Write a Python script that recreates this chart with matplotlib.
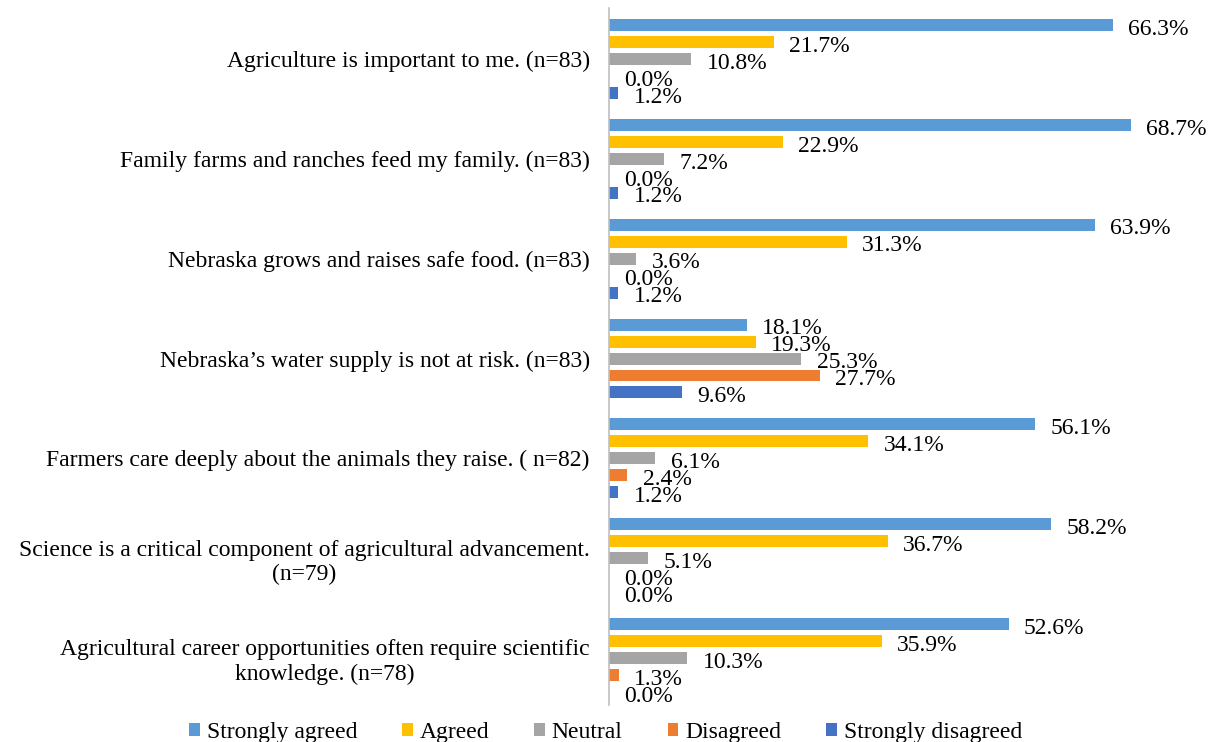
import numpy as np
import matplotlib
matplotlib.use('Agg')
from matplotlib import pyplot as plt

plt.rcParams['font.family'] = ['Liberation Serif', 'DejaVu Serif']

categories = ['Agriculture is important to me. (n=83)',
              'Family farms and ranches feed my family. (n=83)',
              'Nebraska grows and raises safe food. (n=83)',
              'Nebraska\u2019s water supply is not at risk. (n=83)',
              'Farmers care deeply about the animals they raise. ( n=82)',
              'Science is a critical component of agricultural advancement.\n(n=79)',
              'Agricultural career opportunities often require scientific\nknowledge. (n=78)']

series_names = ['Strongly agreed', 'Agreed', 'Neutral', 'Disagreed', 'Strongly disagreed']
series_colors = ['#5B9BD5', '#FFC000', '#A5A5A5', '#ED7D31', '#4472C4']

strongly_agreed = [66.3, 68.7, 63.9, 18.1, 56.1, 58.2, 52.6]
agreed = [21.7, 22.9, 31.3, 19.3, 34.1, 36.7, 35.9]
neutral = [10.8, 7.2, 3.6, 25.3, 6.1, 5.1, 10.3]
disagreed = [0.0, 0.0, 0.0, 27.7, 2.4, 0.0, 1.3]
strongly_disagreed = [1.2, 1.2, 1.2, 9.6, 1.2, 0.0, 0.0]

all_series = [strongly_agreed, agreed, neutral, disagreed, strongly_disagreed]

fig = plt.figure(figsize=(12.11, 7.42), dpi=100)
ax = fig.add_axes([0.503, 0.05, 0.483, 0.939])

y = np.arange(len(categories))
step = 0.17
bar_h = 0.12

for k, (name, vals, col) in enumerate(zip(series_names, all_series, series_colors)):
    pos = y + (k - 2) * step
    ax.barh(pos, vals, height=bar_h, color=col, label=name)
    for p, v in zip(pos, vals):
        ax.annotate('%.1f%%' % v, xy=(v, p), xytext=(11, -3), textcoords='offset points',
                    va='center', ha='left', fontsize=17)

ax.set_xlim(0, 77)
ax.set_ylim(6.47, -0.51)
ax.set_yticks(y)
ax.set_yticklabels(categories, fontsize=17, multialignment='center')
ax.tick_params(axis='y', length=0, pad=14)
ax.set_xticks([])
for s in ['top', 'right', 'bottom']:
    ax.spines[s].set_visible(False)
ax.spines['left'].set_color('#BFBFBF')
ax.spines['left'].set_linewidth(1.2)

fig.legend(loc='center', bbox_to_anchor=(0.5, 0.013), ncol=5, frameon=False,
           fontsize=17, handlelength=0.45, handleheight=0.45, handletextpad=0.3,
           columnspacing=1.9)

fig.savefig('out.png', dpi=100)
